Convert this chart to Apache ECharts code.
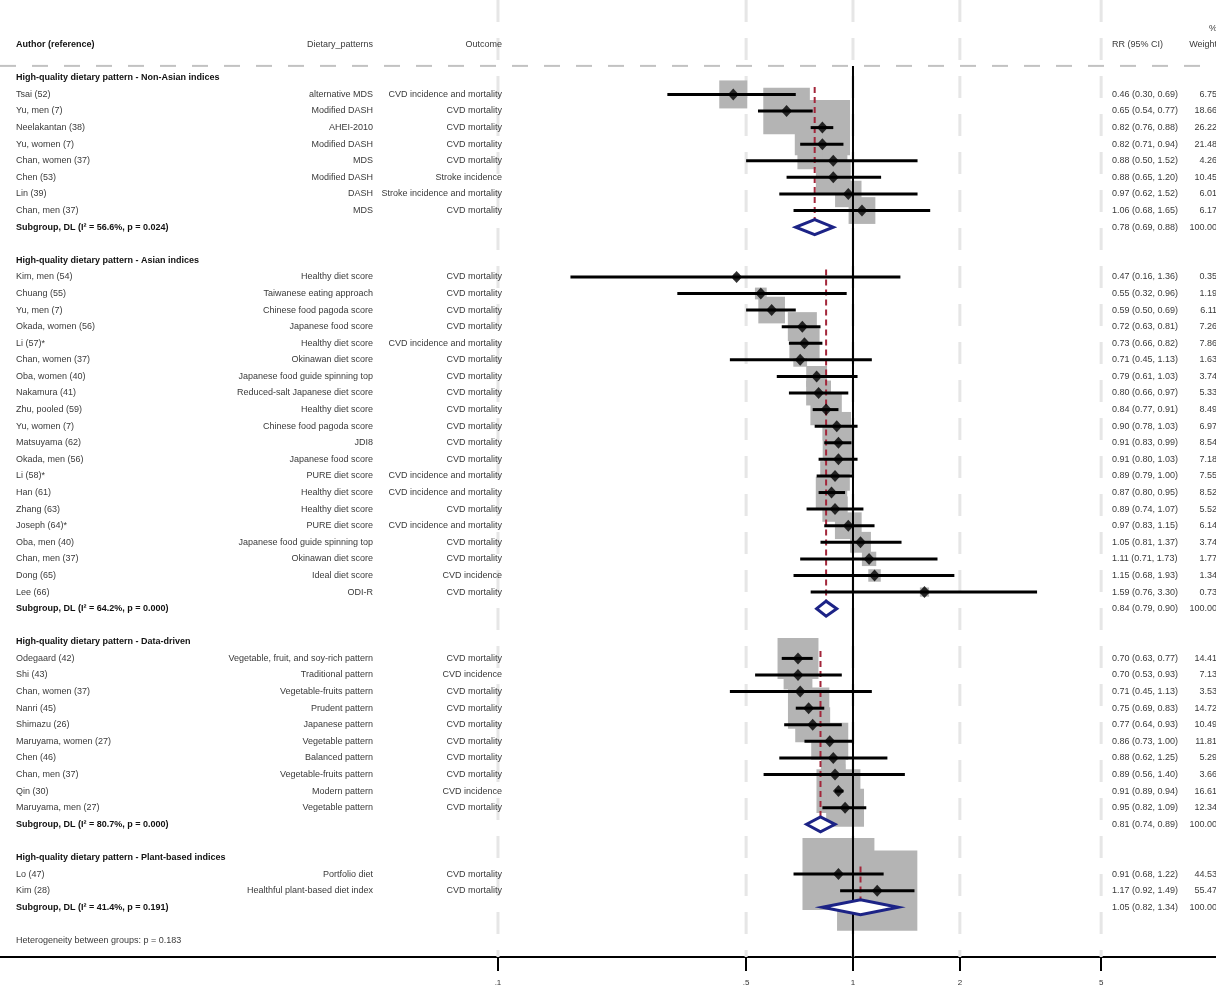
<!DOCTYPE html>
<html>
<head>
<meta charset="utf-8">
<script src="https://cdn.jsdelivr.net/npm/echarts@6/dist/echarts.min.js"></script>
<style>
  html, body { margin: 0; padding: 0; background: #fff; }
  #chart { width: 1216px; height: 987px; }
</style>
</head>
<body>
<div id="chart"></div>
<script>
// ---- Forest plot data: [author, dietary pattern, outcome, RR, lower, upper, % weight] ----
const groupTitles = [
  'High-quality dietary pattern - Non-Asian indices',
  'High-quality dietary pattern - Asian indices',
  'High-quality dietary pattern - Data-driven',
  'High-quality dietary pattern - Plant-based indices'
];

const nonAsianStudies = [
  ['Tsai (52)', 'alternative MDS', 'CVD incidence and mortality', 0.46, 0.30, 0.69, 6.75],
  ['Yu, men (7)', 'Modified DASH', 'CVD mortality', 0.65, 0.54, 0.77, 18.66],
  ['Neelakantan (38)', 'AHEI-2010', 'CVD mortality', 0.82, 0.76, 0.88, 26.22],
  ['Yu, women (7)', 'Modified DASH', 'CVD mortality', 0.82, 0.71, 0.94, 21.48],
  ['Chan, women (37)', 'MDS', 'CVD mortality', 0.88, 0.50, 1.52, 4.26],
  ['Chen (53)', 'Modified DASH', 'Stroke incidence', 0.88, 0.65, 1.20, 10.45],
  ['Lin (39)', 'DASH', 'Stroke incidence and mortality', 0.97, 0.62, 1.52, 6.01],
  ['Chan, men (37)', 'MDS', 'CVD mortality', 1.06, 0.68, 1.65, 6.17]
];

const asianStudies = [
  ['Kim, men (54)', 'Healthy diet score', 'CVD mortality', 0.47, 0.16, 1.36, 0.35],
  ['Chuang (55)', 'Taiwanese eating approach', 'CVD mortality', 0.55, 0.32, 0.96, 1.19],
  ['Yu, men (7)', 'Chinese food pagoda score', 'CVD mortality', 0.59, 0.50, 0.69, 6.11],
  ['Okada, women (56)', 'Japanese food score', 'CVD mortality', 0.72, 0.63, 0.81, 7.26],
  ['Li (57)*', 'Healthy diet score', 'CVD incidence and mortality', 0.73, 0.66, 0.82, 7.86],
  ['Chan, women (37)', 'Okinawan diet score', 'CVD mortality', 0.71, 0.45, 1.13, 1.63],
  ['Oba, women (40)', 'Japanese food guide spinning top', 'CVD mortality', 0.79, 0.61, 1.03, 3.74],
  ['Nakamura (41)', 'Reduced-salt Japanese diet score', 'CVD mortality', 0.80, 0.66, 0.97, 5.33],
  ['Zhu, pooled (59)', 'Healthy diet score', 'CVD mortality', 0.84, 0.77, 0.91, 8.49],
  ['Yu, women (7)', 'Chinese food pagoda score', 'CVD mortality', 0.90, 0.78, 1.03, 6.97],
  ['Matsuyama (62)', 'JDI8', 'CVD mortality', 0.91, 0.83, 0.99, 8.54],
  ['Okada, men (56)', 'Japanese food score', 'CVD mortality', 0.91, 0.80, 1.03, 7.18],
  ['Li (58)*', 'PURE diet score', 'CVD incidence and mortality', 0.89, 0.79, 1.00, 7.55],
  ['Han (61)', 'Healthy diet score', 'CVD incidence and mortality', 0.87, 0.80, 0.95, 8.52],
  ['Zhang (63)', 'Healthy diet score', 'CVD mortality', 0.89, 0.74, 1.07, 5.52],
  ['Joseph (64)*', 'PURE diet score', 'CVD incidence and mortality', 0.97, 0.83, 1.15, 6.14],
  ['Oba, men (40)', 'Japanese food guide spinning top', 'CVD mortality', 1.05, 0.81, 1.37, 3.74],
  ['Chan, men (37)', 'Okinawan diet score', 'CVD mortality', 1.11, 0.71, 1.73, 1.77],
  ['Dong (65)', 'Ideal diet score', 'CVD incidence', 1.15, 0.68, 1.93, 1.34],
  ['Lee (66)', 'ODI-R', 'CVD mortality', 1.59, 0.76, 3.30, 0.73]
];

const dataDrivenStudies = [
  ['Odegaard (42)', 'Vegetable, fruit, and soy-rich pattern', 'CVD mortality', 0.70, 0.63, 0.77, 14.41],
  ['Shi (43)', 'Traditional pattern', 'CVD incidence', 0.70, 0.53, 0.93, 7.13],
  ['Chan, women (37)', 'Vegetable-fruits pattern', 'CVD mortality', 0.71, 0.45, 1.13, 3.53],
  ['Nanri (45)', 'Prudent pattern', 'CVD mortality', 0.75, 0.69, 0.83, 14.72],
  ['Shimazu (26)', 'Japanese pattern', 'CVD mortality', 0.77, 0.64, 0.93, 10.49],
  ['Maruyama, women (27)', 'Vegetable pattern', 'CVD mortality', 0.86, 0.73, 1.00, 11.81],
  ['Chen (46)', 'Balanced pattern', 'CVD mortality', 0.88, 0.62, 1.25, 5.29],
  ['Chan, men (37)', 'Vegetable-fruits pattern', 'CVD mortality', 0.89, 0.56, 1.40, 3.66],
  ['Qin (30)', 'Modern pattern', 'CVD incidence', 0.91, 0.89, 0.94, 16.61],
  ['Maruyama, men (27)', 'Vegetable pattern', 'CVD mortality', 0.95, 0.82, 1.09, 12.34]
];

const plantBasedStudies = [
  ['Lo (47)', 'Portfolio diet', 'CVD mortality', 0.91, 0.68, 1.22, 44.53],
  ['Kim (28)', 'Healthful plant-based diet index', 'CVD mortality', 1.17, 0.92, 1.49, 55.47]
];

// Pooled (DerSimonian-Laird) estimates per subgroup: [label, RR, lower, upper]
const subgroupResults = [
  ['Subgroup, DL (I\u00B2 = 56.6%, p = 0.024)', 0.78, 0.69, 0.88],
  ['Subgroup, DL (I\u00B2 = 64.2%, p = 0.000)', 0.84, 0.79, 0.90],
  ['Subgroup, DL (I\u00B2 = 80.7%, p = 0.000)', 0.81, 0.74, 0.89],
  ['Subgroup, DL (I\u00B2 = 41.4%, p = 0.191)', 1.05, 0.82, 1.34]
];

const heterogeneityNote = 'Heterogeneity between groups: p = 0.183';

const columnHeaders = ['Author (reference)', 'Dietary_patterns', 'Outcome', 'RR (95% CI)', 'Weight', '%'];

// Log-scale axis ticks
const tickRR = [0.1, 0.5, 1, 2, 5];
const tickLabels = ['.1', '.5', '1', '2', '5'];

// ---- Layout ----
const COL = { author: 16, pattern: 373, outcome: 502, rr: 1112, weight: 1217 };
const FONT = "'Liberation Sans', Arial, Helvetica, sans-serif";
const BOX_SCALE = 10.78;           // box side in px per sqrt(% weight)
const HEADER_RULE_ROW = -0.72;     // dashed rule under the column headers
const COLOR = {
  text: '#3a3a3a', bold: '#111', box: '#b4b4b4', grid: '#e6e6e6',
  rule: '#c2c2c2', pooled: '#a3263a', diamond: '#1c2386'
};

// ---- Build row layout ----
const groupStudies = [nonAsianStudies, asianStudies, dataDrivenStudies, plantBasedStudies];
const textItems = [];
const studyRows = [];   // {rr, lo, hi, w, k}
const pooledRows = [];  // {rr, lo, hi, k, kStart}
const fmt = v => v.toFixed(2);

textItems.push({ k: -2, x: COL.author, align: 'left', text: columnHeaders[0], bold: true });
textItems.push({ k: -2, x: COL.pattern, align: 'right', text: columnHeaders[1] });
textItems.push({ k: -2, x: COL.outcome, align: 'right', text: columnHeaders[2] });
textItems.push({ k: -2, x: COL.rr, align: 'left', text: columnHeaders[3] });
textItems.push({ k: -2, x: COL.weight, align: 'right', text: columnHeaders[4] });
textItems.push({ k: -3, x: COL.weight, align: 'right', text: columnHeaders[5] });

let row = 0;
groupStudies.forEach((studies, g) => {
  textItems.push({ k: row, x: COL.author, align: 'left', text: groupTitles[g], bold: true });
  const kStart = row;
  studies.forEach((s, i) => {
    const k = row + 1 + i;
    const [author, pattern, outcome, rr, lo, hi, w] = s;
    textItems.push({ k, x: COL.author, align: 'left', text: author });
    textItems.push({ k, x: COL.pattern, align: 'right', text: pattern });
    textItems.push({ k, x: COL.outcome, align: 'right', text: outcome });
    textItems.push({ k, x: COL.rr, align: 'left', text: `${fmt(rr)} (${fmt(lo)}, ${fmt(hi)})` });
    textItems.push({ k, x: COL.weight, align: 'right', text: fmt(w) });
    studyRows.push({ rr, lo, hi, w, k });
  });
  const ks = row + studies.length + 1;
  const [label, rr, lo, hi] = subgroupResults[g];
  textItems.push({ k: ks, x: COL.author, align: 'left', text: label, bold: true });
  textItems.push({ k: ks, x: COL.rr, align: 'left', text: `${fmt(rr)} (${fmt(lo)}, ${fmt(hi)})` });
  textItems.push({ k: ks, x: COL.weight, align: 'right', text: '100.00' });
  pooledRows.push({ rr, lo, hi, k: ks, kStart });
  row = ks + 2;
});
textItems.push({ k: row, x: COL.author, align: 'left', text: heterogeneityNote });
const AXIS_ROW = row + 1;

const chart = echarts.init(document.getElementById('chart'), null, { renderer: 'canvas' });

const option = {
  animation: false,
  backgroundColor: '#fff',
  grid: { left: 0, right: 0, top: 0, bottom: 28, containLabel: false },
  xAxis: {
    type: 'log',
    logBase: 10,
    min: 0.003956,
    max: 10.533,
    axisLine: { show: true, onZero: false, lineStyle: { color: '#000', width: 2 } },
    axisTick: { show: true, customValues: tickRR, length: 14, lineStyle: { color: '#000', width: 2 } },
    axisLabel: {
      show: true, customValues: tickRR, margin: 22, fontSize: 8, color: '#333', fontFamily: FONT,
      formatter: v => {
        let best = 0;
        tickRR.forEach((t, i) => { if (Math.abs(Math.log10(v) - Math.log10(t)) < Math.abs(Math.log10(v) - Math.log10(tickRR[best]))) best = i; });
        return tickLabels[best];
      }
    },
    splitLine: { show: false },
    minorTick: { show: false }
  },
  yAxis: {
    type: 'value',
    inverse: true,
    min: -78 / (881 / AXIS_ROW),
    max: AXIS_ROW,
    show: false
  },
  series: [
    // vertical reference grid at tick positions
    {
      type: 'custom', z: 1, silent: true,
      data: tickRR.map(t => [t, 0]),
      renderItem: (params, api) => {
        const x = api.coord([api.value(0), 0])[0];
        const cs = params.coordSys;
        return {
          type: 'line',
          shape: { x1: x, y1: cs.y, x2: x, y2: cs.y + cs.height },
          style: { stroke: COLOR.grid, lineWidth: 3, lineDash: [22, 16] }
        };
      }
    },
    // dashed rule below the column headers
    {
      type: 'custom', z: 2, silent: true,
      data: [[1, HEADER_RULE_ROW]],
      renderItem: (params, api) => {
        const y = api.coord([1, api.value(1)])[1];
        const cs = params.coordSys;
        return {
          type: 'line',
          shape: { x1: cs.x, y1: y, x2: cs.x + cs.width, y2: y },
          style: { stroke: COLOR.rule, lineWidth: 2, lineDash: [16, 16] }
        };
      }
    },
    // weight boxes
    {
      type: 'custom', z: 3, silent: true,
      data: studyRows.map(s => [s.rr, s.k, s.w]),
      renderItem: (params, api) => {
        const c = api.coord([api.value(0), api.value(1)]);
        const side = BOX_SCALE * Math.sqrt(api.value(2));
        return {
          type: 'rect',
          shape: { x: c[0] - side / 2, y: c[1] - side / 2, width: side, height: side },
          style: { fill: COLOR.box }
        };
      }
    },
    // null line at RR = 1
    {
      type: 'custom', z: 4, silent: true,
      data: [[1, HEADER_RULE_ROW]],
      renderItem: (params, api) => {
        const top = api.coord([1, api.value(1)]);
        const cs = params.coordSys;
        return {
          type: 'line',
          shape: { x1: top[0], y1: top[1], x2: top[0], y2: cs.y + cs.height },
          style: { stroke: '#000', lineWidth: 2 }
        };
      }
    },
    // pooled estimate reference lines
    {
      type: 'custom', z: 5, silent: true,
      data: pooledRows.map(p => [p.rr, p.kStart + 0.55, p.k + 0.45]),
      renderItem: (params, api) => {
        const a = api.coord([api.value(0), api.value(1)]);
        const b = api.coord([api.value(0), api.value(2)]);
        return {
          type: 'line',
          shape: { x1: a[0], y1: a[1], x2: b[0], y2: b[1] },
          style: { stroke: COLOR.pooled, lineWidth: 2, lineDash: [6, 4] }
        };
      }
    },
    // confidence intervals
    {
      type: 'custom', z: 6, silent: true,
      data: studyRows.map(s => [s.rr, s.k, s.lo, s.hi]),
      renderItem: (params, api) => {
        const a = api.coord([api.value(2), api.value(1)]);
        const b = api.coord([api.value(3), api.value(1)]);
        return {
          type: 'line',
          shape: { x1: a[0], y1: a[1], x2: b[0], y2: b[1] },
          style: { stroke: '#000', lineWidth: 3 }
        };
      }
    },
    // point estimates
    {
      type: 'scatter', z: 7, silent: true,
      symbol: 'diamond', symbolSize: [11, 12],
      itemStyle: { color: '#000' },
      data: studyRows.map(s => [s.rr, s.k])
    },
    // pooled diamonds
    {
      type: 'custom', z: 8, silent: true,
      data: pooledRows.map(p => [p.rr, p.k, p.lo, p.hi]),
      renderItem: (params, api) => {
        const k = api.value(1);
        const l = api.coord([api.value(2), k]);
        const r = api.coord([api.value(3), k]);
        const t = api.coord([api.value(0), k - 0.45]);
        const b = api.coord([api.value(0), k + 0.45]);
        return {
          type: 'polygon',
          shape: { points: [l, t, r, b] },
          style: { fill: '#fff', stroke: COLOR.diamond, lineWidth: 3 }
        };
      }
    },
    // table text
    {
      type: 'custom', z: 9, silent: true,
      data: textItems.map(t => [1, t.k]),
      renderItem: (params, api) => {
        const t = textItems[params.dataIndex];
        const y = api.coord([1, api.value(1)])[1];
        return {
          type: 'text',
          x: t.x, y: y,
          style: {
            text: t.text,
            align: t.align,
            verticalAlign: 'middle',
            fill: t.bold ? COLOR.bold : COLOR.text,
            fontSize: 9,
            fontFamily: FONT,
            fontWeight: t.bold ? 'bold' : 'normal'
          }
        };
      }
    }
  ]
};

chart.setOption(option);
</script>
</body>
</html>
